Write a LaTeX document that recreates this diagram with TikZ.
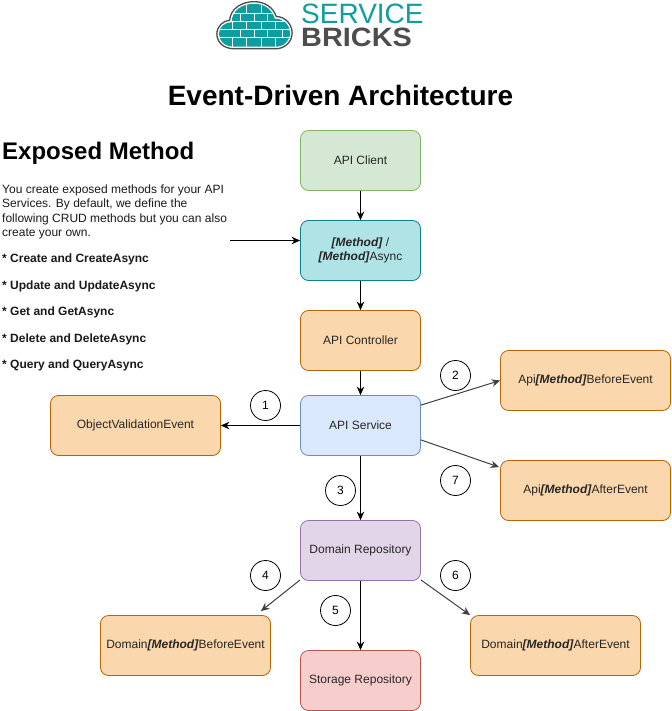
\documentclass[tikz,border=0pt]{standalone}
\usepackage{fontspec}
\setmainfont{Liberation Sans}
\usetikzlibrary{arrows.meta,calc}
\definecolor{LogoTeal}{HTML}{0F9EA0}
\definecolor{LogoGray}{HTML}{4D4D4D}
\definecolor{GreenFill}{HTML}{D5E8D4}
\definecolor{GreenLine}{HTML}{82B366}
\definecolor{TealFill}{HTML}{B0E3E6}
\definecolor{TealLine}{HTML}{0E8088}
\definecolor{OrangeFill}{HTML}{FAD7AC}
\definecolor{OrangeLine}{HTML}{B46504}
\definecolor{BlueFill}{HTML}{DAE8FC}
\definecolor{BlueLine}{HTML}{6C8EBF}
\definecolor{PurpleFill}{HTML}{E1D5E7}
\definecolor{PurpleLine}{HTML}{9673A6}
\definecolor{RedFill}{HTML}{F8CECC}
\definecolor{RedLine}{HTML}{B85450}
\tikzset{
    block/.style = {draw, rectangle, rounded corners=8pt, line width=.8pt,
        minimum height=60pt, minimum width=120pt, inner sep=0pt,
        font=\fontsize{12}{14.4}\selectfont, text=black!85, align=center},
    wideblock/.style = {block, minimum width=170pt},
    arrow/.style = {draw, line width=1pt, -{Stealth[length=8.5pt,width=7.5pt]}},
    grayarrow/.style = {arrow, draw=black!75},
    step num/.style = {draw, circle, minimum size=30pt, inner sep=0pt, line width=.8pt,
        font=\fontsize{12}{14.4}\selectfont},
    bulletline/.style = {anchor=west, inner sep=0pt, text=black!90,
        font=\fontsize{12}{14.4}\selectfont\bfseries}
}
\newcommand{\mtd}{\textbf{\textit{[Method]}}}
\begin{document}
\begin{tikzpicture}[x=1pt,y=-1pt]
\useasboundingbox (0,0) rectangle (671,711);
% logo
\begin{scope}[shift={(254.5,25)},scale=1.06,shift={(-254.5,-25)}]
\draw[LogoGray,line width=1.3pt,fill=white] (236,47.5) .. controls (225,47.5) and (219,41) .. (219,33.5)
    .. controls (219,26) and (225,21) .. (231,20.5)
    .. controls (232,9) and (243,3) .. (254,3)
    .. controls (264,3) and (272,8) .. (275,17)
    .. controls (284,17) and (290,25) .. (290,32.5)
    .. controls (290,41) and (283,47.5) .. (274,47.5) -- cycle;
\begin{scope}
    \clip (236,45.5) .. controls (226,45.5) and (221,40) .. (221,33.5)
    .. controls (221,27) and (226,22.5) .. (233,22.5)
    .. controls (233,11) and (243,5) .. (254,5)
    .. controls (264,5) and (271,10) .. (273.5,19)
    .. controls (283,19) and (288,26) .. (288,32.5)
    .. controls (288,40) and (282,45.5) .. (274,45.5) -- cycle;
    \fill[LogoTeal] (215,0) rectangle (295,50);
    \foreach \y in {14,22,29,37}
        \draw[white,line width=.8pt] (215,\y) -- (295,\y);
    \foreach \x in {241,254,267,281}
        \draw[white,line width=.8pt] (\x,14) -- (\x,22) (\x,29) -- (\x,37);
    \foreach \x in {234,247,261,274}
        \draw[white,line width=.8pt] (\x,5) -- (\x,14) (\x,22) -- (\x,29) (\x,37) -- (\x,46);
\end{scope}
\end{scope}
\node[anchor=west,inner sep=0pt,text=LogoTeal] (logoservice) at (301,13.5)
    {\fontsize{28}{28}\selectfont SERVICE};
\node[anchor=west,inner sep=0pt,text=LogoGray,xscale=1.09,transform shape] (logobricks) at (301,37.5)
    {\fontsize{26.5}{26.5}\selectfont\bfseries BRICKS};
% headings
\node[inner sep=0pt] (title) at (340.5,95) {\fontsize{28}{30}\selectfont\bfseries Event-Driven Architecture};
\node[anchor=west,inner sep=0pt] (exposed) at (2,153) {\fontsize{24}{28}\selectfont\bfseries Exposed Method};
\node[anchor=north west,inner sep=0pt,align=left,text=black!90,font=\fontsize{12}{14.4}\selectfont] (intro) at (2,184.5)
    {You create exposed methods for your API\\Services. By default, we define the\\following CRUD methods but you can also\\create your own.};
\node[bulletline] (create) at (2,259) {* Create and CreateAsync};
\node[bulletline] (update) at (2,286) {* Update and UpdateAsync};
\node[bulletline] (get) at (2,312) {* Get and GetAsync};
\node[bulletline] (delete) at (2,339) {* Delete and DeleteAsync};
\node[bulletline] (query) at (2,365) {* Query and QueryAsync};
% blocks
\node[block,fill=GreenFill,draw=GreenLine] (client) at (360.5,160.5) {API Client};
\node[block,fill=TealFill,draw=TealLine] (method) at (360.5,250.5) {\mtd{} /\\\mtd{}Async};
\node[block,fill=OrangeFill,draw=OrangeLine] (controller) at (360.5,340.5) {API Controller};
\node[block,fill=BlueFill,draw=BlueLine] (service) at (360.5,425.5) {API Service};
\node[block,fill=PurpleFill,draw=PurpleLine] (domain) at (360.5,550.5) {Domain Repository};
\node[block,fill=RedFill,draw=RedLine] (storage) at (360.5,680.5) {Storage Repository};
\node[block,fill=OrangeFill,draw=OrangeLine,minimum width=170pt] (validation) at (135.5,425.5) {ObjectValidationEvent};
\node[wideblock,fill=OrangeFill,draw=OrangeLine] (apibefore) at (585.5,380.5) {Api\mtd{}BeforeEvent};
\node[wideblock,fill=OrangeFill,draw=OrangeLine] (apiafter) at (585.5,490.5) {Api\mtd{}AfterEvent};
\node[wideblock,fill=OrangeFill,draw=OrangeLine] (domainbefore) at (185.5,645.5) {Domain\mtd{}BeforeEvent};
\node[wideblock,fill=OrangeFill,draw=OrangeLine] (domainafter) at (555.5,645.5) {Domain\mtd{}AfterEvent};
% numbers
\node[step num] (one) at (265.5,405.5) {1};
\node[step num] (two) at (455.5,375.5) {2};
\node[step num] (three) at (340.5,490.5) {3};
\node[step num] (four) at (265.5,575.5) {4};
\node[step num] (five) at (335.5,610.5) {5};
\node[step num] (six) at (455.5,575.5) {6};
\node[step num] (seven) at (455.5,480.5) {7};
% connectors
\coordinate (introend) at (230,240.5);
\draw[arrow] (introend) -- (method.west |- introend);
\draw[arrow] (client) -- (method);
\draw[arrow] (method) -- (controller);
\draw[arrow] (controller) -- (service);
\draw[arrow] (service) -- (domain);
\draw[arrow] (domain) -- (storage);
\draw[arrow] (service) -- (validation);
\draw[grayarrow] ($(service.north east)+(0,10)$) -- (apibefore.west);
\draw[grayarrow] ($(service.south east)+(0,-16)$) -- ($(apiafter.north west)+(-1,7)$);
\draw[grayarrow] ($(domain.south west)+(0,-1)$) -- ($(domainbefore.north east)+(-10,-4)$);
\draw[grayarrow] ($(domain.south east)+(0,-1)$) -- (domainafter.north west);
\end{tikzpicture}
\end{document}
